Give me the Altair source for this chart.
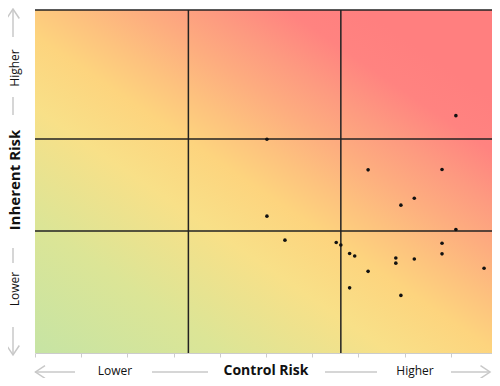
import altair as alt
import pandas as pd

# Data (Control Risk = x, Inherent Risk = y), 0-100 scale
control_risk = [91.1, 50.2, 72.1, 88.1, 82.1, 79.2, 50.2, 91.1, 54.1, 65.2, 66.2,
                88.1, 68.1, 69.2, 88.1, 78.1, 78.1, 82.1, 72.1, 97.2, 68.1, 79.2]
inherent_risk = [69.2, 62.3, 53.4, 53.5, 45.1, 43.1, 39.9, 36.0, 32.9, 32.2, 31.5,
                 32.0, 29.0, 28.3, 28.9, 27.7, 26.2, 27.4, 23.8, 24.7, 19.0, 16.8]
v_lines = [33.2, 66.2]
h_lines = [35.6, 62.4, 100]
x_ticks = list(range(0, 101, 10))

W, H = 462, 343

points_df = pd.DataFrame({"control": control_risk, "inherent": inherent_risk})
bg_df = pd.DataFrame({"x0": [0], "x1": [100], "y0": [0], "y1": [100]})
v_df = pd.DataFrame({"v": v_lines})
h_df = pd.DataFrame({"h": h_lines})

xscale = alt.Scale(domain=[0, 100], nice=False, zero=False)
yscale = alt.Scale(domain=[0, 100], nice=False, zero=False)
xaxis = alt.Axis(values=x_ticks, labels=False, title=None, grid=False,
                 domainColor="#cccccc", tickColor="#cccccc", tickSize=4,
                 domainWidth=1, tickWidth=1)

grad = alt.LinearGradient(
    gradient="linear",
    stops=[
        alt.GradientStop(color="#c6e4a4", offset=0),
        alt.GradientStop(color="#dce596", offset=0.2),
        alt.GradientStop(color="#f8e088", offset=0.37),
        alt.GradientStop(color="#fdd47e", offset=0.48),
        alt.GradientStop(color="#fdc27e", offset=0.55),
        alt.GradientStop(color="#fdac7f", offset=0.63),
        alt.GradientStop(color="#fd9a80", offset=0.70),
        alt.GradientStop(color="#ff8380", offset=0.78),
        alt.GradientStop(color="#ff7f7f", offset=0.86),
        alt.GradientStop(color="#ff7f7f", offset=1),
    ],
    x1=0, y1=1, x2=0.96, y2=-0.04,
)

bg = alt.Chart(bg_df).mark_rect(fill=grad).encode(
    x=alt.X("x0:Q", scale=xscale, axis=xaxis),
    x2="x1",
    y=alt.Y("y0:Q", scale=yscale, axis=None),
    y2="y1",
)

vrules = alt.Chart(v_df).mark_rule(color="#222222", strokeWidth=1.5).encode(
    x=alt.X("v:Q", scale=xscale, axis=xaxis),
)
hrules = alt.Chart(h_df).mark_rule(color="#222222", strokeWidth=1.5).encode(
    y=alt.Y("h:Q", scale=yscale, axis=None),
)

pts = alt.Chart(points_df).mark_circle(color="#111111", opacity=1, size=13).encode(
    x=alt.X("control:Q", scale=xscale, axis=xaxis),
    y=alt.Y("inherent:Q", scale=yscale, axis=None),
)

# Decorative axis arrows (pixel positions relative to the plot area)
ax_x = -22
ax_y = 362
txt_x = -20
txt_y = 361
segs = pd.DataFrame({
    "x": [ax_x, ax_x, ax_x, ax_x, 0, 117, 290, 416],
    "x2": [ax_x, ax_x, ax_x, ax_x, 40, 173, 342, 455],
    "y": [-1, 87, 238, 317, ax_y, ax_y, ax_y, ax_y],
    "y2": [27, 105, 253, 345, ax_y, ax_y, ax_y, ax_y],
})
heads = pd.DataFrame({
    "x": [ax_x, ax_x, 0.5, 455],
    "y": [-1, 345, ax_y, ax_y],
    "angle": [270, 90, 180, 0],
})
x_labels = pd.DataFrame({"x": [80, 380], "y": [txt_y, txt_y], "t": ["Lower", "Higher"]})
y_labels = pd.DataFrame({"x": [txt_x, txt_x], "y": [58, 279], "t": ["Higher", "Lower"]})

seg_layer = alt.Chart(segs).mark_rule(color="#c8c8c8", strokeWidth=1.5).encode(
    x=alt.X("x:Q", scale=None), x2="x2",
    y=alt.Y("y:Q", scale=None), y2="y2",
)
head_layer = alt.Chart(heads).mark_point(
    shape="M -1.5 -1 L 0 0 L -1.5 1", filled=False, color="#c8c8c8",
    strokeWidth=1.5, size=160, opacity=1,
).encode(
    x=alt.X("x:Q", scale=None),
    y=alt.Y("y:Q", scale=None),
    angle=alt.Angle("angle:Q", scale=None),
)

FONT = "Open Sans"
xl = alt.Chart(x_labels).mark_text(font=FONT, fontSize=12, color="#111111",
                                   align="center", baseline="middle").encode(
    x=alt.X("x:Q", scale=None), y=alt.Y("y:Q", scale=None), text="t:N")
yl = alt.Chart(y_labels).mark_text(font=FONT, fontSize=12, color="#111111",
                                   align="center", baseline="middle", angle=270).encode(
    x=alt.X("x:Q", scale=None), y=alt.Y("y:Q", scale=None), text="t:N")

x_title = alt.Chart(pd.DataFrame({"x": [231], "y": [txt_y], "t": ["Control Risk"]})).mark_text(
    font=FONT, fontSize=14, fontWeight="bold", color="#111111",
    align="center", baseline="middle").encode(
    x=alt.X("x:Q", scale=None), y=alt.Y("y:Q", scale=None), text="t:N")
y_title = alt.Chart(pd.DataFrame({"x": [txt_x], "y": [170], "t": ["Inherent Risk"]})).mark_text(
    font=FONT, fontSize=15, fontWeight="bold", color="#111111",
    align="center", baseline="middle", angle=270).encode(
    x=alt.X("x:Q", scale=None), y=alt.Y("y:Q", scale=None), text="t:N")

chart = alt.layer(bg, vrules, hrules, pts, seg_layer, head_layer, xl, yl, x_title, y_title).properties(
    width=W, height=H,
    autosize=alt.AutoSizeParams(type="none"),
    padding={"left": 27, "top": 2, "right": -5, "bottom": 25},
    background="white",
).configure_view(strokeWidth=0)

chart.save("out.html", embed_options={"renderer": "svg", "actions": False})
